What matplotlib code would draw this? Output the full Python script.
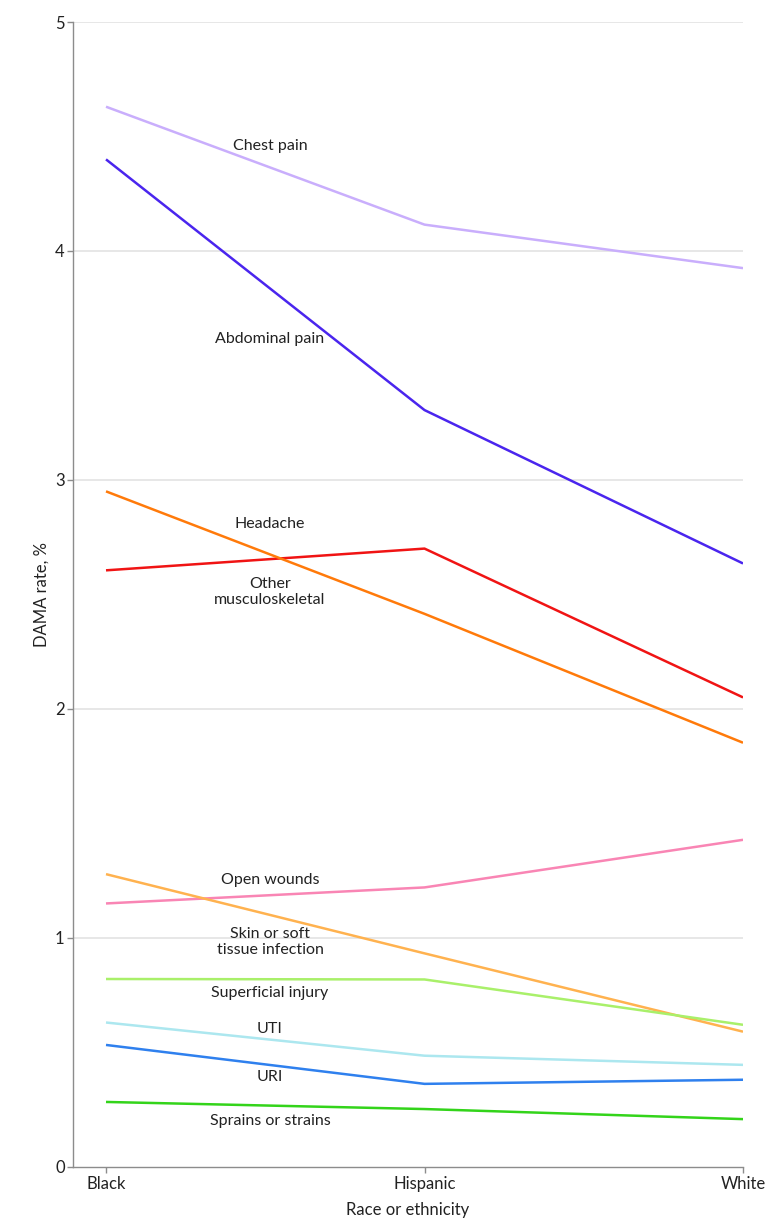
import matplotlib
matplotlib.use("Agg")
import matplotlib.pyplot as plt

plt.rcParams["font.family"] = ["Lato", "DejaVu Sans"]

groups = ["Black", "Hispanic", "White"]

chest_pain = [4.63, 4.115, 3.925]
abdominal_pain = [4.40, 3.305, 2.635]
headache = [2.605, 2.70, 2.05]
other_msk = [2.95, 2.415, 1.852]
open_wounds = [1.15, 1.22, 1.428]
skin_infection = [1.278, 0.932, 0.59]
superficial_injury = [0.82, 0.818, 0.62]
uti = [0.63, 0.485, 0.445]
uri = [0.532, 0.362, 0.38]
sprains = [0.283, 0.252, 0.208]

series = [
    ("Chest pain", chest_pain, "#c9aefc", 4.46),
    ("Abdominal pain", abdominal_pain, "#4a25ee", 3.615),
    ("Headache", headache, "#f01414", 2.806),
    ("Other\nmusculoskeletal", other_msk, "#ff7a0a", 2.512),
    ("Open wounds", open_wounds, "#f985b4", 1.252),
    ("Skin or soft\ntissue infection", skin_infection, "#ffb24f", 0.983),
    ("Superficial injury", superficial_injury, "#a9f06a", 0.757),
    ("UTI", uti, "#ace7ef", 0.600),
    ("URI", uri, "#2f80ee", 0.393),
    ("Sprains or strains", sprains, "#33d41a", 0.200),
]

fig = plt.figure(figsize=(7.8, 12.23), dpi=100)
ax = fig.add_axes([0.0936, 0.046, 0.859, 0.936])

x = list(range(len(groups)))
for name, vals, color, label_y in series:
    ax.plot(x, vals, color=color, lw=1.8, solid_capstyle="butt", zorder=3)
    ax.text(0.515, label_y, name, ha="center", va="center", fontsize=11.5,
            color="#222222", linespacing=1.2, zorder=4)

ax.set_xlim(-0.1036, 2)
ax.set_ylim(0, 5)
ax.set_yticks([0, 1, 2, 3, 4, 5])
ax.set_xticks(x)
ax.set_xticklabels(groups)

for yv in [1, 2, 3, 4, 5]:
    ax.axhline(yv, color="#e3e3e3", lw=1.2, zorder=1)

for side in ["top", "right"]:
    ax.spines[side].set_visible(False)
for side in ["left", "bottom"]:
    ax.spines[side].set_color("#8c8c8c")
    ax.spines[side].set_linewidth(1.0)

ax.tick_params(axis="both", colors="#8c8c8c", labelcolor="#222222",
               labelsize=12, length=4, width=1.0)
ax.tick_params(axis="x", pad=3)
ax.tick_params(axis="y", pad=2)

ax.set_xlabel("Race or ethnicity", fontsize=12, color="#222222", labelpad=7)
ax.set_ylabel("DAMA rate, %", fontsize=12, color="#222222", labelpad=4)

fig.savefig("out.png", dpi=100, facecolor="white")
